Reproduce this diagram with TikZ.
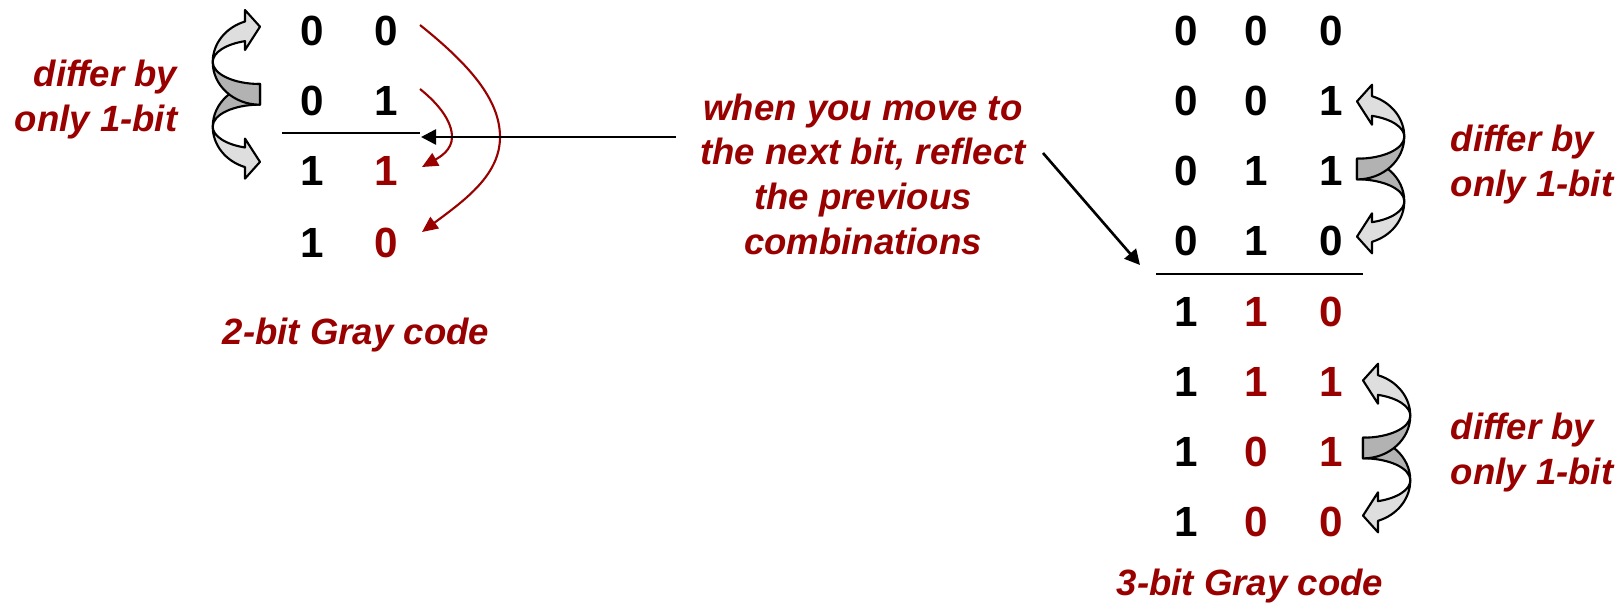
\documentclass[tikz,border=0pt]{standalone}
\usepackage{fontspec}
\setmainfont{Liberation Sans}
\usetikzlibrary{arrows.meta}

\definecolor{darkred}{HTML}{990000}
\definecolor{twistlight}{HTML}{DEDEDE}
\definecolor{twistdark}{HTML}{B2B2B2}

\tikzset{
  twistpen/.style={draw = black, line width = 0.6pt, line join = round},
  twist/.pic={
    % lower arrow
    \draw[twistpen, fill = twistlight] (-15,72.8)
      arc[start angle=108.5, end angle=180, x radius=47.3, y radius=42.7]
      arc[start angle=180, end angle=108.5, x radius=47.3, y radius=22]
      -- (-15,44.3) -- (0,67.6) -- (-15,84.3) -- cycle;
    \draw[twistpen, fill = twistdark] (-47.3,32.3)
      arc[start angle=180, end angle=270, x radius=47.3, y radius=42.7]
      -- (0,10.3)
      arc[start angle=270, end angle=180, x radius=47.3, y radius=22] -- cycle;
    % upper arrow
    \draw[twistpen, fill = twistlight] (-15,-72.8)
      arc[start angle=251.5, end angle=180, x radius=47.3, y radius=42.7]
      arc[start angle=180, end angle=251.5, x radius=47.3, y radius=22]
      -- (-15,-44.3) -- (0,-67.6) -- (-15,-84.3) -- cycle;
    \draw[twistpen, fill = twistdark] (-47.3,-32.3)
      arc[start angle=180, end angle=90, x radius=47.3, y radius=42.7]
      -- (0,-10.3)
      arc[start angle=90, end angle=180, x radius=47.3, y radius=22] -- cycle;
  }
}

\begin{document}
\begin{tikzpicture}[x = 0.01cm, y = -0.01cm,
  bit/.style = {font = \fontsize{12}{14}\selectfont\bfseries, inner sep = 0pt},
  redbit/.style = {bit, text = darkred},
  note/.style = {font = \fontsize{10.4}{12.7}\selectfont\bfseries\itshape, text = darkred, inner sep = 0pt},
  redarrow/.style = {draw = darkred, line width = 0.6pt, -{Triangle[length = 4.5pt, width = 4pt]}},
  blackarrow/.style = {draw = black, line width = 0.75pt, -{Triangle[length = 4.3pt, width = 4.3pt]}}]
\useasboundingbox (0,0) rectangle (1624,605);

% 2-bit code
\node[bit] at (312, 31) (x1)     {0};
\node[bit] at (386, 31) (y1)     {0};
\node[bit] at (312, 101) (x2)    {0};
\node[bit] at (386, 101) (y2)    {1};
\node[bit] at (312, 171) (x3)    {1};
\node[redbit] at (386, 171) (y3) {1};
\node[bit] at (312, 243) (x4)    {1};
\node[redbit] at (386, 243) (y4) {0};
\draw[line width = 0.8pt] (282, 133) -- (420, 133);

% 3-bit code
\node[bit] at (1186, 31) (p1)     {0};
\node[bit] at (1256, 31) (q1)     {0};
\node[bit] at (1331, 31) (r1)     {0};
\node[bit] at (1186, 101) (p2)    {0};
\node[bit] at (1256, 101) (q2)    {0};
\node[bit] at (1331, 101) (r2)    {1};
\node[bit] at (1186, 171) (p3)    {0};
\node[bit] at (1256, 171) (q3)    {1};
\node[bit] at (1331, 171) (r3)    {1};
\node[bit] at (1186, 241) (p4)    {0};
\node[bit] at (1256, 241) (q4)    {1};
\node[bit] at (1331, 241) (r4)    {0};
\node[bit] at (1186, 312) (p5)    {1};
\node[redbit] at (1256, 312) (q5) {1};
\node[redbit] at (1331, 312) (r5) {0};
\node[bit] at (1186, 382) (p6)    {1};
\node[redbit] at (1256, 382) (q6) {1};
\node[redbit] at (1331, 382) (r6) {1};
\node[bit] at (1186, 452) (p7)    {1};
\node[redbit] at (1256, 452) (q7) {0};
\node[redbit] at (1331, 452) (r7) {1};
\node[bit] at (1186, 522) (p8)    {1};
\node[redbit] at (1256, 522) (q8) {0};
\node[redbit] at (1331, 522) (r8) {0};
\draw[line width = 0.8pt] (1156, 274) -- (1363, 274);

% twisted arrows
\pic at (260, 94.3) {twist};
\pic[xscale = -1] at (1357, 169) {twist};
\pic[xscale = -1] at (1363, 448) {twist};

% notes (base = last line)
\node[note, align = right, anchor = base east] at (178, 131) (diffL)
  {differ by\\only 1-bit};
\node[note, align = left, anchor = base west] at (1450, 196) (diffR1)
  {differ by\\only 1-bit};
\node[note, align = left, anchor = base west] at (1450, 484) (diffR2)
  {differ by\\only 1-bit};
\node[note, align = center, anchor = base] at (863, 254) (reflect)
  {when you move to\\the next bit, reflect\\the previous\\combinations};
\node[note, anchor = base] at (356, 344) (title2) {2-bit Gray code};
\node[note, anchor = base] at (1250, 595) (title3) {3-bit Gray code};

% reflection arrows
\coordinate (rs1) at (420, 25);
\coordinate (rm1) at (500, 137);
\coordinate (re1) at (422, 232);
\coordinate (rs2) at (420, 89);
\coordinate (rm2) at (452, 137);
\coordinate (re2) at (422, 167);
\coordinate (hs) at (676, 137);
\coordinate (he) at (421, 137);
\coordinate (ds) at (1043, 153);
\coordinate (de) at (1140, 265);

\draw[redarrow] (rs1) .. controls (470, 65) and (500, 100) .. (rm1)
  .. controls (500, 175) and (465, 200) .. (re1);
\draw[redarrow] (rs2) .. controls (440, 105) and (452, 122) .. (rm2)
  .. controls (452, 150) and (440, 157) .. (re2);
\draw[blackarrow] (hs) -- (he);
\draw[blackarrow] (ds) -- (de);

\end{tikzpicture}
\end{document}
